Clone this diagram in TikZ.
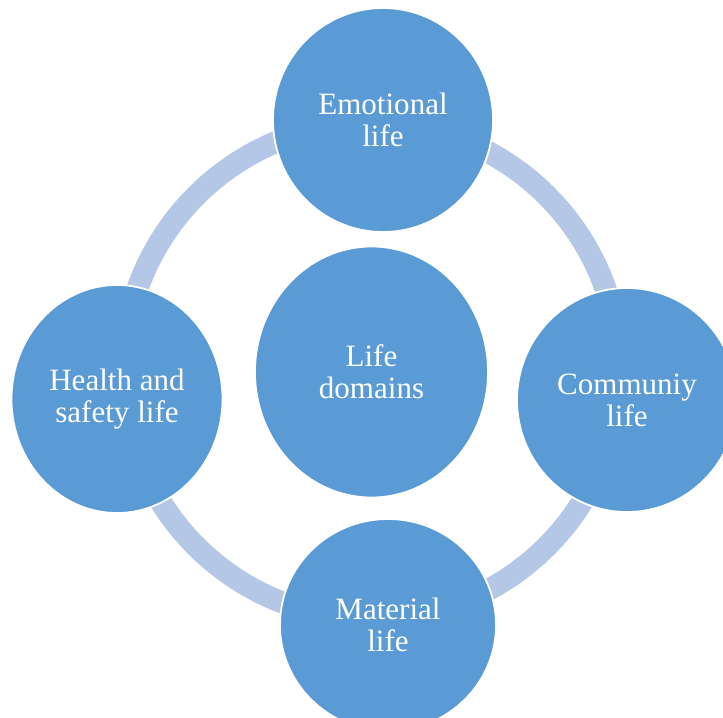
\documentclass[tikz,border=0pt]{standalone}
\usepackage{fontspec}
\setmainfont{Liberation Serif}
\newfontfamily\bubblefont{Liberation Serif}[Ligatures=TeX]
\usetikzlibrary{shapes.geometric}

\definecolor{domainblue}{RGB}{91,155,213}
\definecolor{ringblue}{RGB}{180,199,231}

\begin{document}
\begin{tikzpicture}[x=0.03cm, y=-0.03cm,
		lifebubble/.style={ellipse, fill=domainblue, draw=white, line width=1.5pt,
			inner sep=0pt, text=white, align=center,
			font=\rmfamily\bubblefont\fontsize{26.5}{27.5}\selectfont},
		ring/.style={draw=ringblue, line width=0.66cm}]
			\def\px{0.03cm}
			\def\R{248}

			\useasboundingbox (0,0) rectangle (723,717);

			\coordinate (ring centre) at (371.5,371);

			% the ring behind the domains
			\draw [ring] (ring centre) circle [radius=\R];

			\node [lifebubble, minimum width=233*\px, minimum height=251*\px] (hub) at (371.5,372) {Life\\domains};

			\node [lifebubble, minimum width=220*\px, minimum height=224*\px] (emotional) at (383,120) {Emotional\\life};
			\node [lifebubble, minimum width=220*\px, minimum height=224*\px] (community) at (627,400) {Communiy\\life};
			\node [lifebubble, minimum width=216*\px, minimum height=212*\px] (material) at (388,625) {Material\\life};
			\node [lifebubble, minimum width=211*\px, minimum height=228*\px] (health) at (117,399) {Health and\\safety life};
		\end{tikzpicture}
\end{document}
